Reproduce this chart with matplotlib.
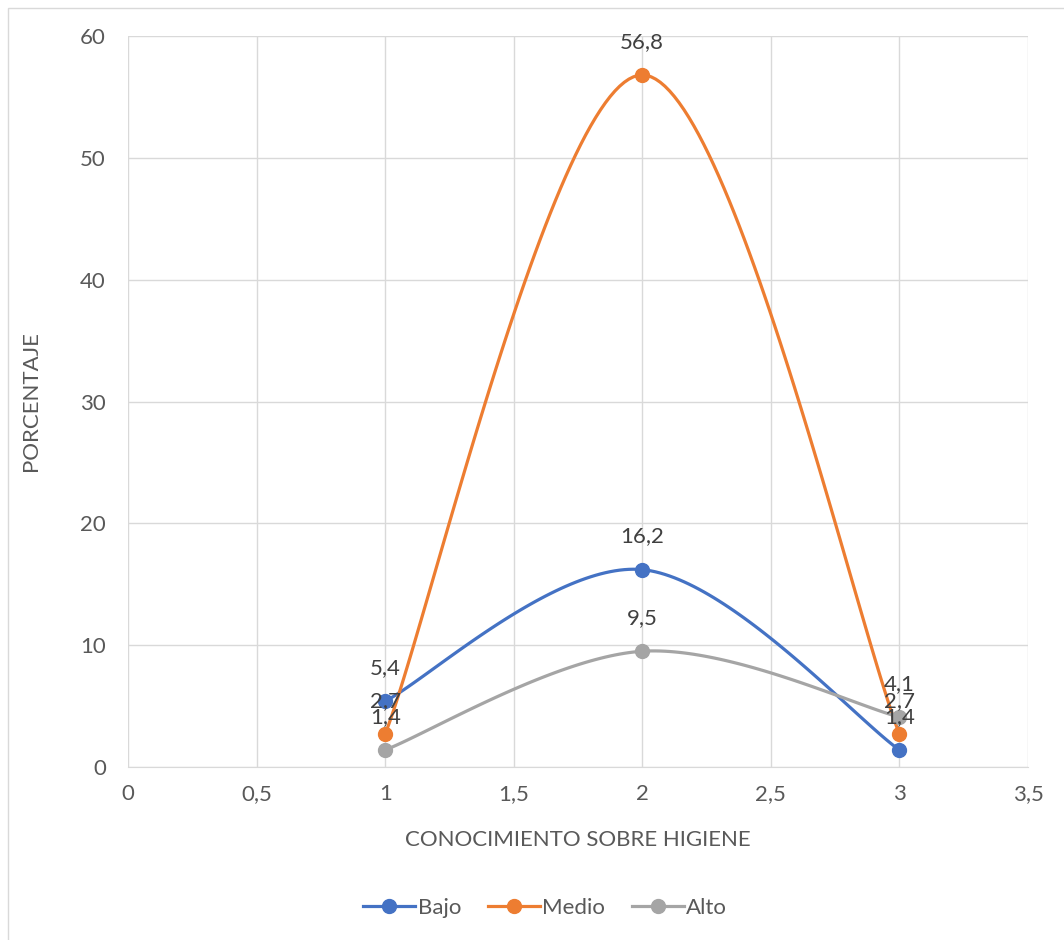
import numpy as np
import matplotlib
matplotlib.use("Agg")
from matplotlib import pyplot as plt
from matplotlib.patches import Rectangle
from matplotlib.ticker import MultipleLocator, FuncFormatter

plt.rcParams['font.family'] = ['Lato', 'DejaVu Sans']

# data
x_vals = [1, 2, 3]
series_names = ["Bajo", "Medio", "Alto"]
bajo = [5.4, 16.2, 1.4]
medio = [2.7, 56.8, 2.7]
alto = [1.4, 9.5, 4.1]
colors = ["#4472C4", "#ED7D31", "#A5A5A5"]

text_col = "#595959"
fs = 16


def smooth(xs, ys, n=60):
    # bezier smoothing like the spreadsheet "smoothed line" option
    pts = np.column_stack([xs, ys]).astype(float)
    out = [pts[0]]
    for i in range(len(pts) - 1):
        p0 = pts[i - 1] if i > 0 else pts[i]
        p1 = pts[i]
        p2 = pts[i + 1]
        p3 = pts[i + 2] if i + 2 < len(pts) else pts[i + 1]
        c1 = p1 + (p2 - p0) / 6
        c2 = p2 - (p3 - p1) / 6
        t = np.linspace(0, 1, n)[1:, None]
        seg = (1 - t) ** 3 * p1 + 3 * (1 - t) ** 2 * t * c1 + 3 * (1 - t) * t ** 2 * c2 + t ** 3 * p2
        out.extend(seg)
    out = np.array(out)
    return out[:, 0], out[:, 1]


fig = plt.figure(figsize=(10.64, 9.40), dpi=100)
fig.patches.append(Rectangle((8 / 1064, -0.1), 1.2, 1.1 - 8 / 940,
                             transform=fig.transFigure, fill=False,
                             edgecolor="#D9D9D9", linewidth=1))
ax = fig.add_axes([128 / 1064, 1 - 767 / 940, 900 / 1064, 731 / 940])

for name, ys, c in zip(series_names, [bajo, medio, alto], colors):
    sx, sy = smooth(x_vals, ys)
    ax.plot(sx, sy, color=c, linewidth=2.3, solid_capstyle="round")
    ax.plot(x_vals, ys, linestyle="none", marker="o", markersize=10, color=c)
    # legend handle
    ax.plot([], [], color=c, linewidth=2.3, marker="o", markersize=10, label=name)

# data labels (they overlap at x=1 and x=3 in the original too)
for ys in [bajo, medio, alto]:
    for xv, yv in zip(x_vals, ys):
        ax.annotate(str(yv).replace(".", ","), (xv, yv), xytext=(0, 24),
                    textcoords="offset points", ha="center", va="center",
                    fontsize=fs, color="#404040")

ax.set_xlim(0, 3.5)
ax.set_ylim(0, 60)
ax.xaxis.set_major_locator(MultipleLocator(0.5))
ax.yaxis.set_major_locator(MultipleLocator(10))
fmt = FuncFormatter(lambda v, p: ("%g" % v).replace(".", ","))
ax.xaxis.set_major_formatter(fmt)
ax.yaxis.set_major_formatter(fmt)
ax.grid(True, color="#D9D9D9", linewidth=1)
ax.set_axisbelow(True)
for s in ["top", "right", "left"]:
    ax.spines[s].set_visible(False)
ax.spines["bottom"].set_color("#D9D9D9")
ax.tick_params(length=0, labelsize=fs, colors=text_col, pad=12)
ax.tick_params(axis="y", pad=16)

ax.set_xlabel("CONOCIMIENTO SOBRE HIGIENE", fontsize=fs, color=text_col, labelpad=19)
ax.set_ylabel("PORCENTAJE", fontsize=fs, color=text_col, labelpad=28)

ax.legend(loc="center", bbox_to_anchor=(545 / 1064, 1 - 908 / 940),
          bbox_transform=fig.transFigure, ncol=3, frameon=False,
          fontsize=fs, labelcolor=text_col, handlelength=2.35,
          handletextpad=0.1, columnspacing=1.2)

fig.savefig("out.png", dpi=100)
